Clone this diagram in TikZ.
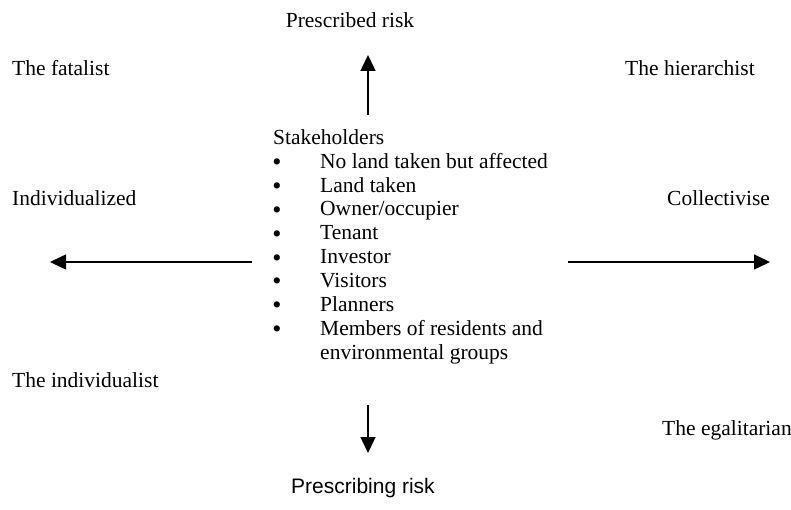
\documentclass[tikz,border=0pt]{standalone}
\usepackage{fontspec}
\setmainfont{Liberation Serif}
\newfontfamily\arialfont{Liberation Sans}
\usetikzlibrary{arrows.meta}

\tikzset{
  label/.style={inner sep=0pt, font=\fontsize{21.5}{24}\selectfont},
  dot/.style={inner sep=0pt, anchor=base, text height=9pt, text depth=0pt,
    font=\fontsize{26}{24}\selectfont},
  axis/.style={line width=1.5pt, -{Triangle[length=16pt,width=15pt]}}
}

\begin{document}
\begin{tikzpicture}[x=1pt,y=-1pt]
                \useasboundingbox (0,0) rectangle (791,510);

                % Axis labels
                \node[label] (prescribed) at (350,20) {Prescribed risk};
                \node[label, font=\arialfont\fontsize{21}{24}\selectfont] (prescribing) at (363,488) {Prescribing risk};
                \node[label, anchor=mid west] (individualized) at (12,203) {Individualized};
                \node[label, anchor=mid west] (collectivise) at (667,203) {Collectivise};

                % Quadrant labels
                \node[label, anchor=mid west] (fatalist) at (12,73) {The fatalist};
                \node[label, anchor=mid west] (hierarchist) at (625,73) {The hierarchist};
                \node[label, anchor=mid west] (individualist) at (12,385) {The individualist};
                \node[label, anchor=mid west] (egalitarian) at (662,433) {The egalitarian};

                % Stakeholders list
                \node[label, anchor=mid west] (stakeholders) at (273,142) {Stakeholders};
                \foreach \item [count=\i] in {No land taken but affected, Land taken,
                    Owner/occupier, Tenant, Investor, Visitors, Planners,
                    Members of residents and} {
                  \node[dot] (bullet\i) at (277,{146.5+23.9*\i}) {\textbullet};
                  \node[label, anchor=mid west] (item\i) at (320,{142+23.9*\i}) {\item};
                }
                \node[label, anchor=mid west] (item9) at (320,{142+23.9*9}) {environmental groups};

                % Arrows
                \coordinate (upfoot) at (368,115);
                \coordinate (uptip) at (368,55);
                \coordinate (downfoot) at (368,405);
                \coordinate (downtip) at (368,453);
                \coordinate (leftfoot) at (252,262);
                \coordinate (lefttip) at (50,262);
                \coordinate (rightfoot) at (568,262);
                \coordinate (righttip) at (770,262);
                \draw[axis] (upfoot) -- (uptip);
                \draw[axis] (downfoot) -- (downtip);
                \draw[axis] (leftfoot) -- (lefttip);
                \draw[axis] (rightfoot) -- (righttip);
\end{tikzpicture}
\end{document}
